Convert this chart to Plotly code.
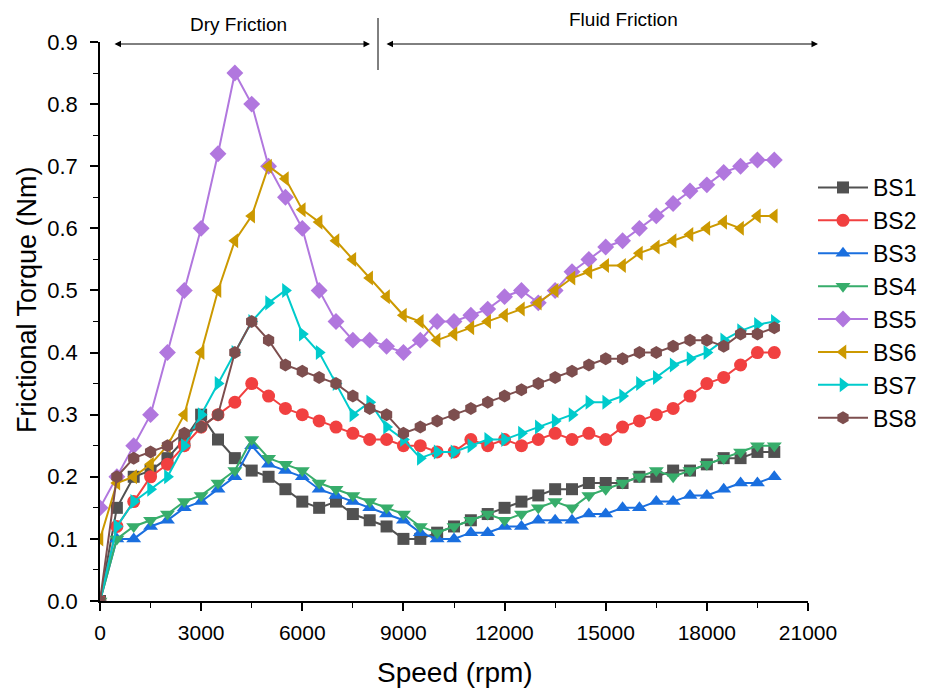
import plotly.graph_objects as go

speed = [0, 500, 1000, 1500, 2000, 2500, 3000, 3500, 4000, 4500,
         5000, 5500, 6000, 6500, 7000, 7500, 8000, 8500, 9000, 9500,
         10000, 10500, 11000, 11500, 12000, 12500, 13000, 13500, 14000, 14500,
         15000, 15500, 16000, 16500, 17000, 17500, 18000, 18500, 19000, 19500,
         20000]

bs1 = [0, .15, .20, .21, .23, .26, .30, .26, .23, .21,
       .20, .18, .16, .15, .16, .14, .13, .12, .10, .10,
       .11, .12, .13, .14, .15, .16, .17, .18, .18, .19,
       .19, .19, .20, .20, .21, .21, .22, .23, .23, .24,
       .24]
bs2 = [0, .12, .16, .20, .22, .25, .28, .30, .32, .35,
       .33, .31, .30, .29, .28, .27, .26, .26, .25, .25,
       .24, .24, .26, .25, .26, .25, .26, .27, .26, .27,
       .26, .28, .29, .30, .31, .33, .35, .36, .38, .40,
       .40]
bs3 = [0, .10, .10, .12, .13, .15, .16, .18, .20, .25,
       .22, .21, .20, .18, .17, .16, .15, .14, .13, .11,
       .10, .10, .11, .11, .12, .12, .13, .13, .13, .14,
       .14, .15, .15, .16, .16, .17, .17, .18, .19, .19,
       .20]
bs4 = [0, .10, .12, .13, .14, .16, .17, .19, .21, .26,
       .23, .22, .21, .19, .18, .17, .16, .15, .14, .12,
       .11, .12, .13, .14, .13, .14, .15, .16, .15, .17,
       .18, .19, .20, .21, .20, .21, .22, .23, .24, .25,
       .25]
bs5 = [.15, .20, .25, .30, .40, .50, .60, .72, .85, .80,
       .70, .65, .60, .50, .45, .42, .42, .41, .40, .42,
       .45, .45, .46, .47, .49, .50, .48, .50, .53, .55,
       .57, .58, .60, .62, .64, .66, .67, .69, .70, .71,
       .71]
bs6 = [.10, .19, .20, .22, .25, .30, .40, .50, .58, .62,
       .70, .68, .63, .61, .58, .55, .52, .49, .46, .45,
       .42, .43, .44, .45, .46, .47, .48, .50, .52, .53,
       .54, .54, .56, .57, .58, .59, .60, .61, .60, .62,
       .62]
bs7 = [0, .12, .16, .18, .20, .25, .30, .35, .40, .45,
       .48, .50, .43, .40, .35, .30, .32, .28, .26, .23,
       .24, .24, .25, .26, .26, .27, .28, .29, .30, .32,
       .32, .33, .35, .36, .38, .39, .40, .42, .435, .445,
       .45]
bs8 = [0, .20, .23, .24, .25, .27, .28, .30, .40, .45,
       .42, .38, .37, .36, .35, .33, .31, .30, .27, .28,
       .29, .30, .31, .32, .33, .34, .35, .36, .37, .38,
       .39, .39, .40, .40, .41, .42, .42, .41, .43, .43,
       .44]

names = ["BS1", "BS2", "BS3", "BS4", "BS5", "BS6", "BS7", "BS8"]
series = [bs1, bs2, bs3, bs4, bs5, bs6, bs7, bs8]
colors = ["#515151", "#F14040", "#1A6FDF", "#37AD6B",
          "#B177DE", "#CC9900", "#00CBCC", "#7D4E4E"]
symbols = ["square", "circle", "triangle-up", "triangle-down",
           "diamond", "triangle-left", "triangle-right", "hexagon"]
sizes = [12, 13, 13, 13, 13, 13, 13, 13]

FONT = "Arial, Liberation Sans, sans-serif"

fig = go.Figure()
for n, s, c, m, sz in zip(names, series, colors, symbols, sizes):
    fig.add_trace(go.Scatter(
        x=speed, y=s, name=n, mode="lines+markers",
        line=dict(color=c, width=2),
        marker=dict(symbol=m, size=sz, color=c, line=dict(width=0)),
    ))

L, R, T, B = 100, 127, 42, 88
W, H = 935, 689
pw, ph = W - L - R, H - T - B


def px_x(p):
    return (p - L) / pw


def px_y(p):
    return (H - B - p) / ph


fig.update_layout(
    width=W, height=H,
    margin=dict(l=L, r=R, t=T, b=B, autoexpand=False),
    paper_bgcolor="white", plot_bgcolor="white",
    font=dict(family=FONT, color="black"),
    showlegend=True,
    legend=dict(x=px_x(813), y=px_y(166), xanchor="left", yanchor="top",
                font=dict(size=23, family=FONT), bgcolor="rgba(0,0,0,0)",
                itemwidth=50, tracegroupgap=0),
    xaxis=dict(
        range=[0, 21000], tickmode="linear", tick0=0, dtick=3000, tickformat="d",
        automargin=False,
        showgrid=False, zeroline=False, showline=True, linecolor="black", linewidth=1.5,
        ticks="outside", ticklen=8, tickwidth=1.5, tickcolor="black",
        minor=dict(ticks="outside", ticklen=5, tickwidth=1.2, tickcolor="black", dtick=1500),
        tickfont=dict(size=21, family=FONT), ticklabelstandoff=4,
    ),
    yaxis=dict(
        range=[0, 0.9], tickmode="linear", tick0=0, dtick=0.1, tickformat=".1f",
        automargin=False,
        showgrid=False, zeroline=False, showline=True, linecolor="black", linewidth=1.5,
        ticks="outside", ticklen=8, tickwidth=1.5, tickcolor="black",
        minor=dict(ticks="outside", ticklen=5, tickwidth=1.2, tickcolor="black", dtick=0.05),
        tickfont=dict(size=22, family=FONT), ticklabelstandoff=8,
    ),
)

# axis titles
fig.add_annotation(xref="paper", yref="paper", x=px_x(455), y=px_y(672),
                   text="Speed (rpm)", showarrow=False, xanchor="center", yanchor="middle",
                   font=dict(size=28, family=FONT, color="black"))
fig.add_annotation(xref="paper", yref="paper", x=px_x(27), y=px_y(300),
                   text="Frictional Torque (Nm)", showarrow=False, textangle=-90,
                   xanchor="center", yanchor="middle",
                   font=dict(size=27, family=FONT, color="black"))

# region annotations
arrow_y = px_y(44)
fig.add_annotation(xref="paper", yref="paper", x=px_x(370), y=arrow_y,
                   axref="pixel", ayref="pixel", ax=-(370 - 113), ay=0,
                   text="", showarrow=True, arrowhead=2, startarrowhead=2,
                   arrowside="end+start", arrowsize=1.3, arrowwidth=1, arrowcolor="black")
fig.add_annotation(xref="paper", yref="paper", x=px_x(818), y=arrow_y,
                   axref="pixel", ayref="pixel", ax=-(818 - 385), ay=0,
                   text="", showarrow=True, arrowhead=2, startarrowhead=2,
                   arrowside="end+start", arrowsize=1.3, arrowwidth=1, arrowcolor="black")
fig.add_annotation(xref="paper", yref="paper", x=px_x(238), y=px_y(25),
                   text="Dry Friction", showarrow=False, xanchor="center", yanchor="middle",
                   font=dict(size=19, family=FONT, color="black"))
fig.add_annotation(xref="paper", yref="paper", x=px_x(623), y=px_y(20),
                   text="Fluid Friction", showarrow=False, xanchor="center", yanchor="middle",
                   font=dict(size=19, family=FONT, color="black"))
fig.add_shape(type="line", xref="paper", yref="paper",
              x0=px_x(378), x1=px_x(378), y0=px_y(18), y1=px_y(70),
              line=dict(color="black", width=1))

fig.write_html("out.html")
